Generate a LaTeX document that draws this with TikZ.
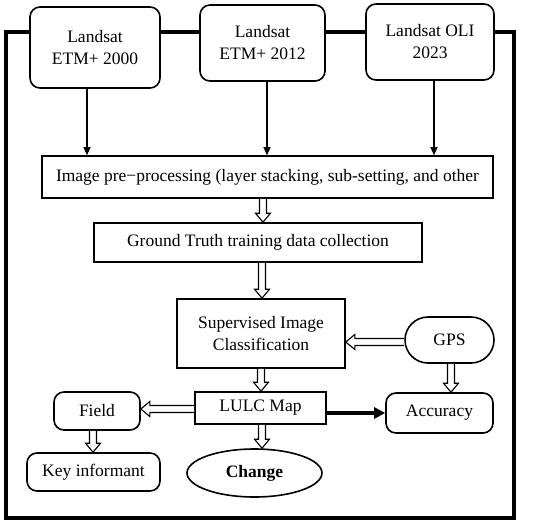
\documentclass[tikz,border=0pt]{standalone}
\usepackage{fontspec}
\setmainfont{Liberation Serif}
\usetikzlibrary{calc,arrows.meta,shapes.geometric}
\tikzset{
  box/.style={draw, line width=1.6pt, fill=white, align=center, inner sep=0pt,
    font=\fontsize{17.5}{22}\selectfont},
  rbox/.style={box, rounded corners=10pt},
  arr/.style={line width=1.2pt, -{Triangle[length=8pt,width=7pt]}},
  thickarr/.style={line width=3.5pt, -{Triangle[length=11pt,width=11pt]}},
  hollow/.style={draw, line width=1.1pt, line join=miter, fill=white},
  frame/.style={draw, line width=3.5pt}
}
\newcommand\hollowarrow[2]{%
  \path (#1) coordinate (hA) (#2) coordinate (hB);
  \path ($(hB)!9pt!(hA)$) coordinate (hC);
  \draw[hollow] ($(hA)!3.5pt!90:(hB)$) -- ($(hC)!3.5pt!-90:(hA)$) -- ($(hC)!7.5pt!-90:(hA)$)
    -- (hB) -- ($(hC)!7.5pt!90:(hA)$) -- ($(hC)!3.5pt!90:(hA)$) -- ($(hA)!3.5pt!-90:(hB)$);
}
\begin{document}
\begin{tikzpicture}[x=1pt,y=-1pt]
\useasboundingbox (0,0) rectangle (550,523);
\draw[frame] (6,32) rectangle (514,518);

\node[rbox, minimum width=130pt, minimum height=81pt] (L1) at (95,47.5) {Landsat\\ETM+ 2000};
\node[rbox, minimum width=125pt, minimum height=76pt] (L2) at (262.5,43) {Landsat\\ETM+ 2012};
\node[rbox, minimum width=128pt, minimum height=76pt] (L3) at (430,42) {Landsat OLI\\2023};

\node[box, minimum width=451pt, minimum height=42pt] (pre) at (267.5,177)
  {Image pre−processing (layer stacking, sub-setting, and other};
\node[box, minimum width=328pt, minimum height=39pt] (gt) at (258,242.5)
  {Ground Truth training data collection};
\node[box, minimum width=168pt, minimum height=69pt] (sup) at (261,333.5)
  {Supervised Image\\Classification};
\node[box, rounded corners=23pt, minimum width=89pt, minimum height=46pt] (gps) at (449.5,340) {GPS};
\node[box, minimum width=131pt, minimum height=32pt] (lulc) at (260.5,408) {LULC Map};
\node[rbox, minimum width=107pt, minimum height=40pt] (acc) at (439.5,413) {Accuracy};
\node[rbox, minimum width=86pt, minimum height=38pt] (field) at (97,411) {Field};
\node[rbox, minimum width=133pt, minimum height=38pt] (key) at (93.5,472) {Key informant};
\node[box, ellipse, minimum width=135pt, minimum height=48pt] (change) at (254.5,473) {\textbf{Change}};

\draw[arr] (L1.south -| 87,0) -- (pre.north -| 87,0);
\draw[arr] (L2.south -| 267,0) -- (pre.north -| 267,0);
\draw[arr] (L3.south -| 434,0) -- (pre.north -| 434,0);

\hollowarrow{pre.south -| 263,0}{gt.north -| 263,0}
\hollowarrow{gt.south -| 262,0}{sup.north -| 262,0}
\hollowarrow{gps.west |- 0,342}{sup.east |- 0,342}
\hollowarrow{gps.south -| 451,0}{acc.north -| 451,0}
\hollowarrow{sup.south -| 261,0}{lulc.north -| 261,0}
\hollowarrow{lulc.west |- 0,409}{field.east |- 0,409}
\hollowarrow{field.south -| 93,0}{key.north -| 93,0}
\hollowarrow{lulc.south -| 262,0}{change.north -| 262,0}

\draw[thickarr] (lulc.east |- 0,413) -- (acc.west |- 0,413);
\end{tikzpicture}
\end{document}
